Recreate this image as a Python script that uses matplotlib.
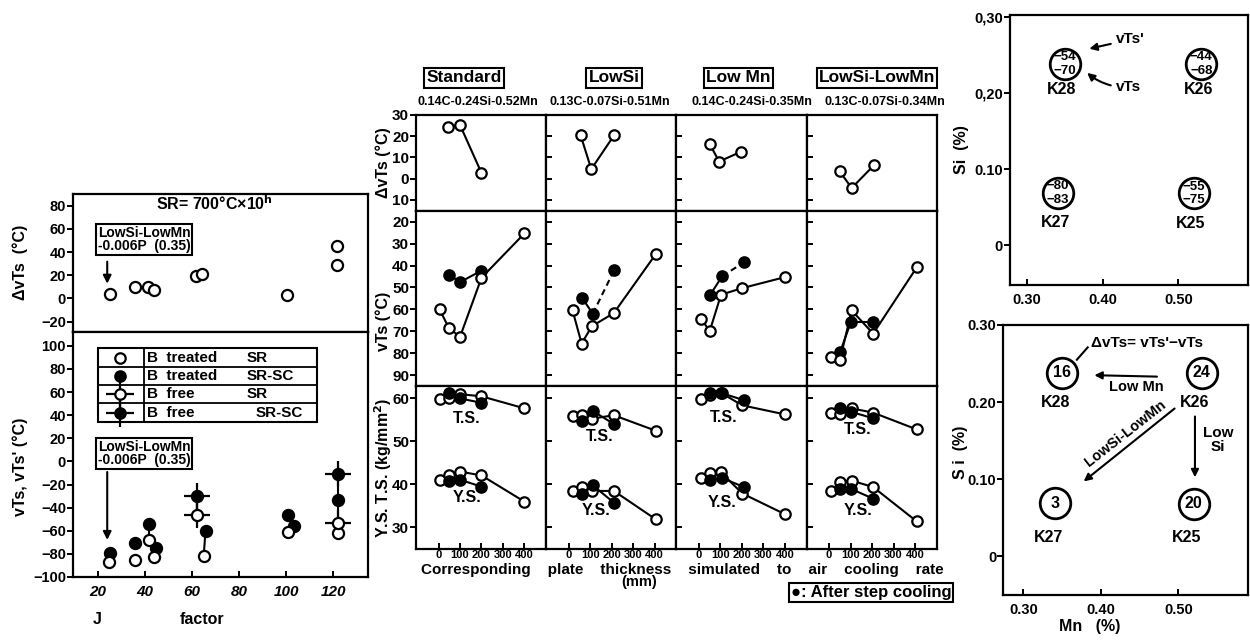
import matplotlib
matplotlib.use('Agg')
import matplotlib.pyplot as plt
from matplotlib.patches import Rectangle

plt.rcParams['font.family'] = ['Liberation Sans', 'DejaVu Sans']
plt.rcParams['font.weight'] = 'bold'
plt.rcParams['axes.linewidth'] = 1.6
plt.rcParams['xtick.major.width'] = 1.4
plt.rcParams['ytick.major.width'] = 1.4
plt.rcParams['mathtext.default'] = 'bf'

# ---------------- data: left panel (J factor) ----------------
J_dv = [25.3, 35.9, 41.3, 44.0, 61.8, 64.5, 100.2, 121.7, 121.7]
dvts_J = [4, 10, 10, 7, 19, 21, 3, 45, 29]

J_sr = [25.0, 36.0, 42.0, 44.0, 65.0, 100.7, 122.0]
vts_sr = [-87, -85, -68, -83, -82, -61, -62]
J_srsc = [25.5, 36.0, 42.0, 44.6, 65.8, 100.7, 103.5, 122.0]
vts_srsc = [-79, -71, -54, -74.5, -60, -46.5, -56, -33]
J_free = [62.0, 122.0]
vts_free_sr = [-46.5, -53]
vts_free_srsc = [-30, -11]

# ---------------- data: middle panels ----------------
groups = ['Standard', 'LowSi', 'Low Mn', 'LowSi-LowMn']
compositions = ['0.14C-0.24Si-0.52Mn', '0.13C-0.07Si-0.51Mn',
                '0.14C-0.24Si-0.35Mn', '0.13C-0.07Si-0.34Mn']
thick_dv = [[45, 100, 200], [55, 105, 212], [50, 94, 198], [50, 105, 210]]
dvts_mid = [[24.5, 25.3, 2.7], [20.6, 4.5, 20.6], [16.4, 8.1, 12.8], [3.4, -4.4, 6.5]]
thick_open = [[5, 48, 100, 200, 400], [18, 60, 108, 210, 405],
              [10, 50, 103, 202, 400], [8, 50, 105, 205, 408]]
thick_sc = [[50, 100, 200], [62, 112, 212], [53, 108, 210], [51, 101, 205]]
vts_open = [[-60, -68.5, -72.6, -45.6, -25.3], [-60.5, -75.6, -67.7, -61.7, -34.8],
            [-64.2, -70, -53.3, -50.3, -45.3], [-81.6, -83.3, -60.5, -71.1, -40.8]]
vts_sc = [[-44.2, -47.6, -42.3], [-54.7, -62, -42], [-53.3, -44.9, -38.5], [-79.6, -65.8, -65.8]]
ts_open = [[59.8, 60.2, 61, 60.5, 57.7], [55.9, 56.1, 55.3, 56.1, 52.5],
           [59.8, 60.8, 61.3, 58.4, 56.3], [56.7, 56.4, 57.7, 56.7, 52.8]]
ts_sc = [[61.2, 60, 59], [54.8, 57.1, 54], [61.2, 61.2, 59.6], [57.7, 56.9, 55.4]]
ys_open = [[41.1, 42.1, 43, 42.1, 36], [38.6, 39.4, 38.5, 38.5, 31.9],
           [41.5, 42.6, 42.8, 37.9, 33.1], [38.5, 40.5, 40.9, 39.4, 31.4]]
ys_sc = [[40.8, 41.1, 39.5], [37.9, 39.8, 35.7], [41.1, 41.5, 39.4], [39, 39, 36.7]]
sc_dashed_second = [False, True, True, False]

# ---------------- data: right panels (Mn-Si map) ----------------
steels = ['K28', 'K26', 'K27', 'K25']
mn_pct = [0.350, 0.530, 0.341, 0.520]
si_pct = [0.238, 0.238, 0.069, 0.068]
vts_prime = [-54, -44, -80, -55]
vts_base = [-70, -68, -83, -75]
delta_vts = [16, 24, 3, 20]

W, H = 1250, 644
fig = plt.figure(figsize=(W / 100, H / 100), dpi=100)


def ax_at(l, t, r, b):
    return fig.add_axes([l / W, 1 - b / H, (r - l) / W, (b - t) / H])


OPEN = dict(marker='o', ms=8, mfc='white', mec='black', mew=1.6, ls='none', zorder=4)
FILL = dict(marker='o', ms=8, mfc='black', mec='black', mew=1.6, ls='none', zorder=3)

# ================= LEFT PANELS =================
axL1 = ax_at(73, 194, 368, 332)
axL2 = ax_at(73, 332, 368, 577)
for a in (axL1, axL2):
    a.set_xlim(9.6, 134.7)
    a.tick_params(axis='y', direction='out', length=4, labelsize=10.5, pad=1)
    a.tick_params(axis='x', direction='in', length=4, labelsize=11, pad=6)
axL1.set_ylim(-28.9, 90)
axL1.set_yticks([80, 60, 40, 20, 0, -20])
axL1.set_xticks([])
axL2.set_ylim(-100, 112)
axL2.set_yticks(list(range(-100, 101, 20)))
axL2.set_xticks([20, 40, 60, 80, 100, 120])
for lab in axL2.get_xticklabels():
    lab.set_fontstyle('italic')

axL1.plot(J_dv, dvts_J, **OPEN)
axL1.text(0.48, 0.93, 'SR= 700°C×10$^{h}$', transform=axL1.transAxes,
          ha='center', va='center', fontsize=11.5)
axL1.text(0.085, 0.67, 'LowSi-LowMn\n-0.006P  (0.35)', transform=axL1.transAxes,
          ha='left', va='center', fontsize=10, linespacing=0.95,
          bbox=dict(boxstyle='square,pad=0.12', fc='white', ec='black', lw=1.5))
axL1.annotate('', xy=(0.116, 0.33), xytext=(0.116, 0.53), xycoords='axes fraction',
              arrowprops=dict(arrowstyle='-|>', lw=1.5, color='black', mutation_scale=12))

# connecting vertical lines
axL2.plot([J_srsc[2], J_sr[2]], [vts_srsc[2], vts_sr[2]], color='black', lw=1.5, zorder=2)
axL2.plot([J_srsc[4], J_sr[4]], [vts_srsc[4], vts_sr[4]], color='black', lw=1.5, zorder=2)
axL2.plot([J_free[0], J_free[0]], [vts_free_srsc[0], vts_free_sr[0]], color='black', lw=1.5, zorder=2)
axL2.plot([J_free[1], J_free[1]], [vts_free_srsc[1], vts_sr[6]], color='black', lw=1.5, zorder=2)
axL2.plot(J_sr, vts_sr, **OPEN)
axL2.plot(J_srsc, vts_srsc, **FILL)
axL2.plot(J_free, vts_free_sr, marker='+', ms=19, mew=1.6, color='black', ls='none', zorder=3)
axL2.plot(J_free, vts_free_sr, **OPEN)
axL2.plot(J_free, vts_free_srsc, marker='+', ms=19, mew=1.6, color='black', ls='none', zorder=3)
axL2.plot(J_free, vts_free_srsc, **FILL)

# legend table
lx0, lx1, ly0, ly1 = 0.084, 0.826, 0.634, 0.933
axL2.add_patch(Rectangle((lx0, ly0), lx1 - lx0, ly1 - ly0, transform=axL2.transAxes,
                         fc='white', ec='black', lw=1.5, zorder=5))
rh = (ly1 - ly0) / 4
for k in range(1, 4):
    axL2.plot([lx0, lx1], [ly0 + k * rh] * 2, transform=axL2.transAxes, color='black', lw=1.3, zorder=6)
axL2.plot([0.241, 0.241], [ly0, ly1], transform=axL2.transAxes, color='black', lw=1.3, zorder=6)
leg_rows = [('B  treated', 'SR', 'white', False),
            ('B  treated', 'SR-SC', 'black', False),
            ('B  free', 'SR', 'white', True),
            ('B  free', 'SR-SC', 'black', True)]
for i, (t1, t2, fc, cross) in enumerate(leg_rows):
    yc = ly1 - (i + 0.5) * rh
    if cross:
        axL2.plot([0.159], [yc], marker='+', ms=20, mew=1.6, color='black',
                  transform=axL2.transAxes, zorder=7, clip_on=False)
    axL2.plot([0.159], [yc], marker='o', ms=7.5, mfc=fc, mec='black', mew=1.6,
              transform=axL2.transAxes, zorder=8, clip_on=False)
    axL2.text(0.25, yc, t1, transform=axL2.transAxes, ha='left', va='center', fontsize=11, zorder=8)
    axL2.text(0.589 if i < 3 else 0.62, yc, t2, transform=axL2.transAxes, ha='left',
              va='center', fontsize=11, zorder=8)

axL2.text(0.085, 0.505, 'LowSi-LowMn\n-0.006P  (0.35)', transform=axL2.transAxes,
          ha='left', va='center', fontsize=10, linespacing=0.95,
          bbox=dict(boxstyle='square,pad=0.12', fc='white', ec='black', lw=1.5))
axL2.annotate('', xy=(0.116, 0.14), xytext=(0.116, 0.44), xycoords='axes fraction',
              arrowprops=dict(arrowstyle='-|>', lw=1.5, color='black', mutation_scale=12))

fig.text(20 / W, 1 - 262 / H, 'ΔvTs  (°C)', rotation=90, ha='center', va='center', fontsize=11.5)
fig.text(20 / W, 1 - 467 / H, "vTs, vTs' (°C)", rotation=90, ha='center', va='center', fontsize=11.5)
fig.text(97 / W, 1 - 620 / H, 'J', ha='center', va='center', fontsize=11.5)
fig.text(202 / W, 1 - 620 / H, 'factor', ha='center', va='center', fontsize=11.5)

# ================= MIDDLE PANELS =================
col_l = [416, 546.2, 676.4, 806.6]
cw = 130.2
row_e = [115, 211, 386, 549]
ylims = [(-15.2, 30), (-95, -15.1), (25, 62.9)]
yticks = [[30, 20, 10, 0, -10], [-20, -30, -40, -50, -60, -70, -80, -90], [60, 50, 40, 30]]
ts_lbl = [(131, 55.3), (146, 51.2), (114, 55.6), (135, 52.7)]
ys_lbl = [(131, 37.0), (125, 34.0), (107, 35.7), (135, 34.0)]
LOPEN = dict(OPEN, ms=7.5)
LFILL = dict(FILL, ms=7.5)

for c in range(4):
    for r in range(3):
        a = ax_at(col_l[c], row_e[r], col_l[c] + cw, row_e[r + 1])
        a.set_xlim(-104.7, 501)
        a.set_ylim(*ylims[r])
        a.set_yticks(yticks[r])
        if c == 0:
            a.set_yticklabels([str(abs(v)) for v in yticks[r]])
            a.tick_params(axis='y', direction='out', length=4, labelsize=11, pad=1)
        else:
            a.set_yticklabels([])
            a.tick_params(axis='y', direction='in', length=4)
        if r == 2:
            a.set_xticks([0, 100, 200, 300, 400])
            a.tick_params(axis='x', direction='in', length=4, labelsize=8, pad=1)
        else:
            a.set_xticks([])
        if r == 0:
            a.plot(thick_dv[c], dvts_mid[c], color='black', lw=1.5,
                   **{k: v for k, v in LOPEN.items() if k != 'ls'})
        elif r == 1:
            t, v = thick_sc[c], vts_sc[c]
            a.plot(t[:2], v[:2], color='black', lw=1.5, zorder=2)
            a.plot(t[1:], v[1:], color='black', lw=1.5, zorder=2,
                   ls=(0, (3, 2)) if sc_dashed_second[c] else '-')
            a.plot(t, v, **LFILL)
            a.plot(thick_open[c], vts_open[c], color='black', lw=1.5, zorder=2)
            a.plot(thick_open[c], vts_open[c], **LOPEN)
        else:
            for so, ss in ((ts_open, ts_sc), (ys_open, ys_sc)):
                a.plot(thick_sc[c], ss[c], color='black', lw=1.5, zorder=2)
                a.plot(thick_sc[c], ss[c], **LFILL)
                a.plot(thick_open[c], so[c], color='black', lw=1.5, zorder=2)
                a.plot(thick_open[c], so[c], **dict(LOPEN, zorder=2.5))
            a.text(*ts_lbl[c], 'T.S.', ha='center', va='center', fontsize=11.5)
            a.text(*ys_lbl[c], 'Y.S.', ha='center', va='center', fontsize=11.5)

hdr_x = [464, 614, 738.5, 877]
comp_x = [478, 610, 752, 885]
for c in range(4):
    fig.text(hdr_x[c] / W, 1 - 78 / H, groups[c], ha='center', va='center', fontsize=12.5,
             bbox=dict(boxstyle='square,pad=0.12', fc='white', ec='black', lw=1.5))
    fig.text(comp_x[c] / W, 1 - 102 / H, compositions[c], ha='center', va='center', fontsize=9)

fig.text(383 / W, 1 - 163 / H, 'ΔvTs (°C)', rotation=90, ha='center', va='center', fontsize=11.5)
fig.text(383 / W, 1 - 321 / H, 'vTs (°C)', rotation=90, ha='center', va='center', fontsize=11.5)
fig.text(383 / W, 1 - 468 / H, 'Y.S. T.S. (kg/mm$^2$)', rotation=90, ha='center', va='center', fontsize=11.5)
fig.text(682 / W, 1 - 570 / H, 'Corresponding    plate    thickness    simulated    to    air    cooling    rate',
         ha='center', va='center', fontsize=11)
fig.text(639 / W, 1 - 582 / H, '(mm)', ha='center', va='center', fontsize=10.5)
fig.text(871 / W, 1 - 592 / H, '●: After step cooling', ha='center', va='center', fontsize=12,
         bbox=dict(boxstyle='square,pad=0.12', fc='white', ec='black', lw=1.5))

# ================= RIGHT PANELS =================
axR1 = ax_at(1010, 15, 1248.3, 285)
axR2 = ax_at(1003.3, 325, 1248, 595)
axR1.set_xlim(0.278, 0.592)
axR1.set_ylim(-0.052, 0.302)
axR2.set_xlim(0.274, 0.59)
axR2.set_ylim(-0.05, 0.30)
for a, ylabs in ((axR1, ['0', '0.10', '0,20', '0,30']), (axR2, ['0', '0.10', '0.20', '0.30'])):
    a.set_yticks([0, 0.1, 0.2, 0.3])
    a.set_yticklabels(ylabs)
    a.set_xticks([0.3, 0.4, 0.5])
    a.set_xticklabels(['0.30', '0.40', '0.50'])
    a.tick_params(axis='y', direction='out', length=4, labelsize=10.5, pad=1)
    a.tick_params(axis='x', direction='in', length=4, labelsize=10.5, pad=6)
    a.plot(mn_pct, si_pct, marker='o', ms=22, mfc='white', mec='black', mew=2, ls='none')

klab_dy1 = [-0.034, -0.034, -0.039, -0.039]
klab_dx1 = [-0.004, -0.004, -0.003, -0.004]
for i in range(4):
    axR1.text(mn_pct[i], si_pct[i] + 0.009, str(vts_prime[i]).replace('-', '−'),
              ha='center', va='center', fontsize=9.5)
    axR1.text(mn_pct[i], si_pct[i] - 0.009, str(vts_base[i]).replace('-', '−'),
              ha='center', va='center', fontsize=9.5)
    axR1.text(mn_pct[i] + klab_dx1[i], si_pct[i] + klab_dy1[i], steels[i],
              ha='center', va='center', fontsize=11.5)
    axR2.text(mn_pct[i], si_pct[i], str(delta_vts[i]), ha='center', va='center', fontsize=11.5)
    axR2.text(mn_pct[i] + klab_dx1[i] - 0.005, si_pct[i] + klab_dy1[i] - 0.005, steels[i],
              ha='center', va='center', fontsize=11.5)

AR = dict(arrowstyle='-|>', lw=1.5, color='black', mutation_scale=11)
axR1.annotate("vTs'", xy=(0.379, 0.257), xytext=(0.418, 0.270), ha='left', va='center',
              fontsize=11, arrowprops=AR)
axR1.annotate('vTs', xy=(0.377, 0.2285), xytext=(0.418, 0.207), ha='left', va='center',
              fontsize=11, arrowprops=dict(AR, connectionstyle='arc3,rad=-0.2'))

axR2.text(0.459, 0.277, "ΔvTs= vTs'−vTs", ha='center', va='center', fontsize=11)
axR2.plot([0.383, 0.369], [0.271, 0.255], color='black', lw=1.5)
axR2.annotate('', xy=(0.388, 0.235), xytext=(0.476, 0.233), arrowprops=AR)
axR2.text(0.446, 0.219, 'Low Mn', ha='center', va='center', fontsize=10.5)
axR2.annotate('', xy=(0.375, 0.095), xytext=(0.498, 0.194), arrowprops=AR)
axR2.text(0.432, 0.160, 'LowSi-LowMn', ha='center', va='center', fontsize=10.5, rotation=38)
axR2.annotate('', xy=(0.5215, 0.099), xytext=(0.5215, 0.185), arrowprops=AR)
axR2.text(0.551, 0.151, 'Low\nSi', ha='center', va='center', fontsize=11, linespacing=0.95)

fig.text(962 / W, 1 - 150 / H, 'Si  (%)', rotation=90, ha='center', va='center', fontsize=11.5)
fig.text(960 / W, 1 - 452 / H, 'S i  (%)', rotation=90, ha='center', va='center', fontsize=11.5)
fig.text(1090 / W, 1 - 626 / H, 'Mn   (%)', ha='center', va='center', fontsize=11.5)

fig.savefig('out.png', dpi=100)
